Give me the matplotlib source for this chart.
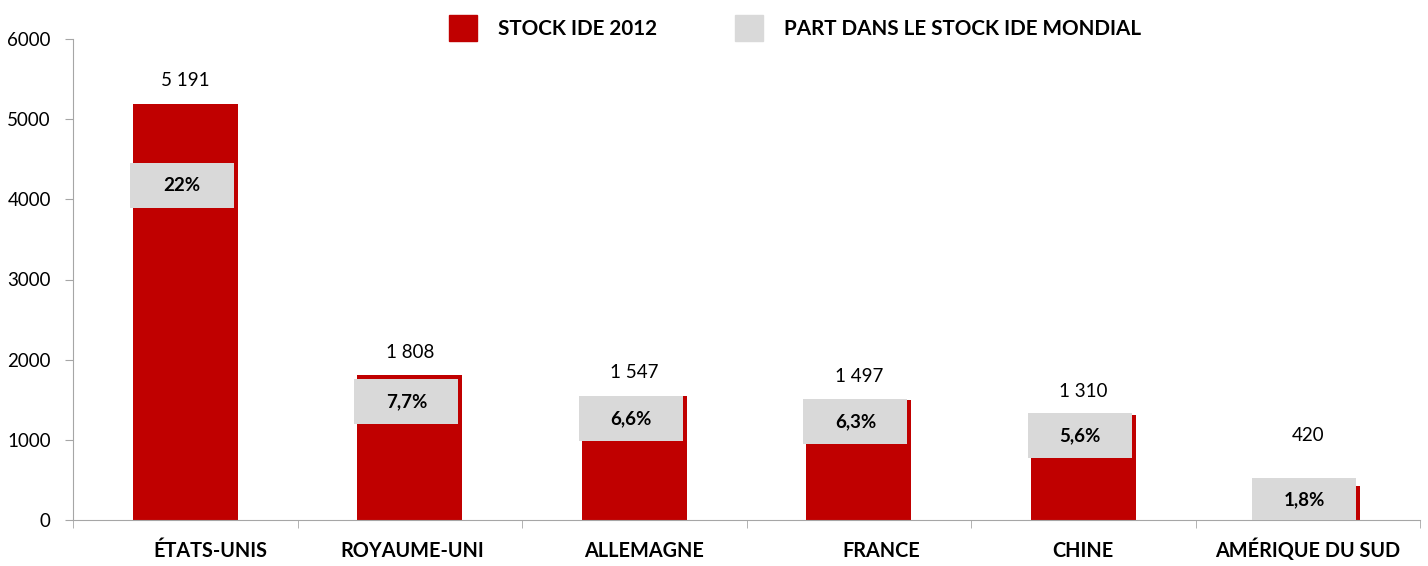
import numpy as np
import matplotlib.pyplot as plt
from matplotlib.patches import Patch
from matplotlib.transforms import ScaledTranslation

# data
countries = ["ÉTATS-UNIS", "ROYAUME-UNI", "ALLEMAGNE", "FRANCE", "CHINE", "AMÉRIQUE DU SUD"]
stock_2012 = [5191, 1808, 1547, 1497, 1310, 420]
share_world = [22, 7.7, 6.6, 6.3, 5.6, 1.8]

# layout of the grey share boxes (centre height, data units) and text offsets
share_box_y = [4173, 1478, 1266, 1229, 1054, 250]
value_label_dy = [23, 23, 23, 23, 23, 51]   # px above bar top
tick_label_dx = [25, 2, 10, 23, 0, 0]        # px shift of category labels

RED = "#C00000"
GREY = "#D9D9D9"
AXIS = "#A6A6A6"

plt.rcParams['font.family'] = ['Lato', 'DejaVu Sans']

fig = plt.figure(figsize=(14.28, 5.66), dpi=100)
ax = fig.add_axes([73 / 1428, 46 / 566, (1420 - 73) / 1428, (520 - 39) / 566])

x = np.arange(len(countries))
ax.bar(x, stock_2012, width=0.468, color=RED, zorder=2)

box_h = 560
ax.bar(x - 0.015, [box_h] * len(x), width=0.463,
       bottom=np.array(share_box_y) - box_h / 2, color=GREY, zorder=3)

for xi, p, yb in zip(x, share_world, share_box_y):
    txt = f"{p:g}".replace(".", ",") + "%"
    ax.text(xi - 0.015, yb, txt, ha='center', va='center', fontsize=13.5,
            fontweight='bold', zorder=4)

for xi, v, dy in zip(x, stock_2012, value_label_dy):
    ax.annotate(f"{v:,}".replace(",", " "), (xi, v), xytext=(0, dy * 0.72),
                textcoords='offset points', ha='center', va='center', fontsize=13.5)

ax.set_xlim(-0.5, len(countries) - 0.5)
ax.set_ylim(0, 6000)
ax.set_yticks(range(0, 6001, 1000))

ax.set_xticks(x)
ax.set_xticklabels(countries, fontsize=14.3, fontweight='bold')
ax.set_xticks(np.arange(-0.5, len(countries)), minor=True)
ax.tick_params(axis='x', which='major', length=0, pad=26.5)
ax.tick_params(axis='x', which='minor', length=6, color=AXIS, direction='out')
ax.tick_params(axis='y', length=6, color=AXIS, labelsize=13.5, pad=10)

for lbl, dx in zip(ax.get_xticklabels(), tick_label_dx):
    lbl.set_verticalalignment('baseline')
    lbl.set_transform(lbl.get_transform() + ScaledTranslation(dx / 100, 0, fig.dpi_scale_trans))

for side in ['top', 'right']:
    ax.spines[side].set_visible(False)
for side in ['left', 'bottom']:
    ax.spines[side].set_color(AXIS)

handles = [Patch(color=RED, label="STOCK IDE 2012"),
           Patch(color=GREY, label="PART DANS LE STOCK IDE MONDIAL")]
fig.legend(handles=handles, loc='center', bbox_to_anchor=(795 / 1428, 1 - 28 / 566),
           ncol=2, frameon=False, handlelength=1.35, handleheight=1.55,
           handletextpad=1.0, columnspacing=3.8,
           prop={'weight': 'bold', 'size': 14.9})

fig.savefig("out.png", dpi=100)
